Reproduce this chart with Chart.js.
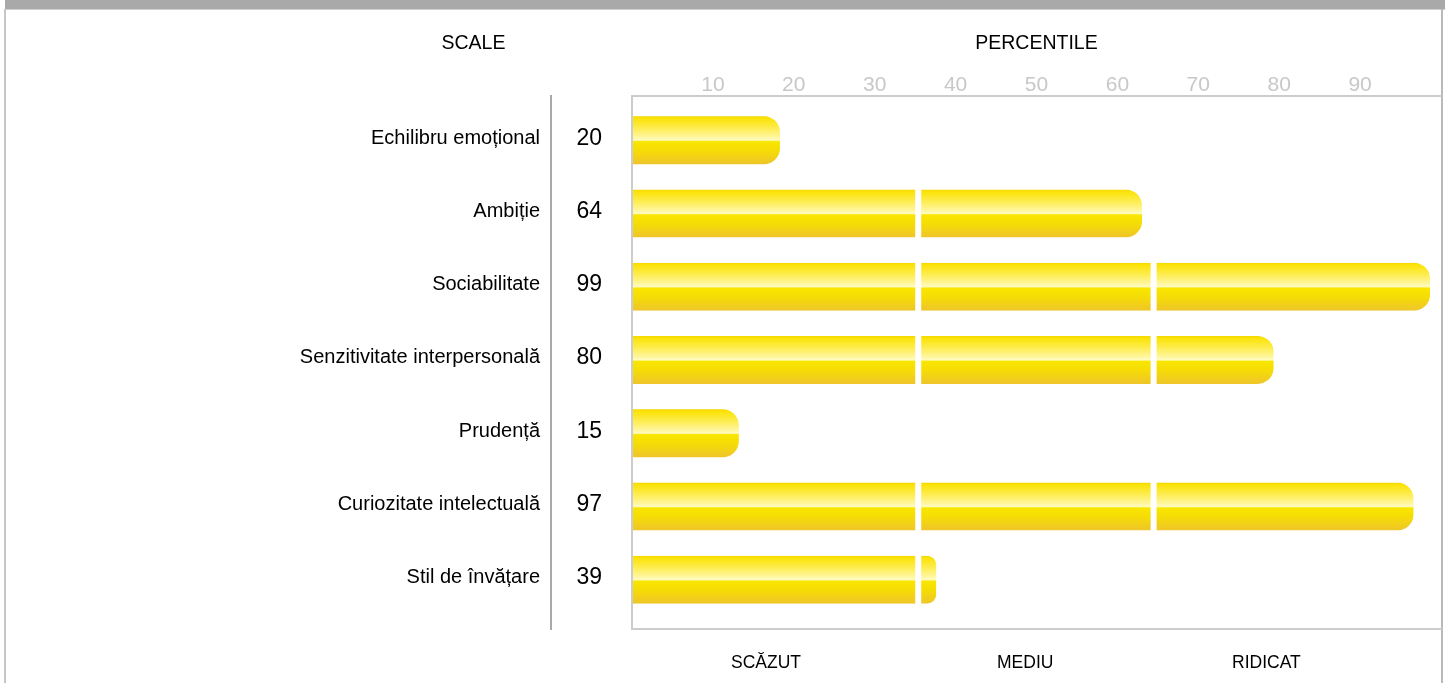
<!DOCTYPE html>
<html>
<head>
<meta charset="utf-8">
<script src="https://cdn.jsdelivr.net/npm/chart.js@4.4.0/dist/chart.umd.min.js"></script>
<style>
  html, body { margin: 0; padding: 0; background: #fff; }
  #topbar { position: absolute; left: 5px; right: 0; top: 0; height: 9px; background: #a9a9a9; border-bottom: 1px solid #cfcfcf; }
  #frame { position: absolute; left: 4px; top: 9px; width: 1435px; height: 674px; border-left: 2px solid #c6c6c6; border-right: 2px solid #b9b9b9; }
  #wrap { position: absolute; left: 0; top: 0; width: 1445px; height: 683px; }
</style>
</head>
<body>
<div id="topbar"></div>
<div id="frame"></div>
<div id="wrap"><canvas id="scaleChart" width="1445" height="683"></canvas></div>
<script>
// data
var scaleNames = ['Echilibru emoțional', 'Ambiție', 'Sociabilitate', 'Senzitivitate interpersonală',
                  'Prudență', 'Curiozitate intelectuală', 'Stil de învățare'];
var percentiles = [20, 64, 99, 80, 15, 97, 39];
var tickValues = [10, 20, 30, 40, 50, 60, 70, 80, 90];
var bands = ['SCĂZUT', 'MEDIU', 'RIDICAT'];
var bandEdges = [36.8, 65.4];        // white breaks inside the bars
var bandLabelAt = [18.3, 49.8, 79.1];

var FONT = '"Liberation Sans", Arial, sans-serif';
Chart.defaults.font.family = FONT;
Chart.defaults.color = '#000';

var BAR_H = 48;

// glossy yellow fill, built per row
function barFill(c) {
  var chart = c.chart;
  if (!chart.chartArea || !c.raw || !chart.scales.y) return '#f7df00';
  var mid = chart.scales.y.getPixelForValue(c.raw.y);
  if (!isFinite(mid)) return '#f7df00';
  var g = chart.ctx.createLinearGradient(0, mid - BAR_H / 2, 0, mid + BAR_H / 2);
  g.addColorStop(0, '#f3d700');
  g.addColorStop(0.05, '#fbe308');
  g.addColorStop(0.22, '#fdeb45');
  g.addColorStop(0.42, '#fff596');
  g.addColorStop(0.5, '#fffbc2');
  g.addColorStop(0.53, '#f9e600');
  g.addColorStop(0.72, '#f5dc06');
  g.addColorStop(1, '#eec52b');
  return g;
}

var segStart = [0].concat(bandEdges);
var segEnd = bandEdges.concat([100]);

var datasets = segStart.map(function (s, k) {
  var rows = [];
  percentiles.forEach(function (v, i) {
    if (v > s) rows.push({ y: i, x: [s, Math.min(v, segEnd[k])], last: v <= segEnd[k] });
  });
  return {
    data: rows,
    xAxisID: 'x',
    yAxisID: 'y',
    grouped: false,
    barThickness: BAR_H,
    clip: 0,
    inflateAmount: 0,
    backgroundColor: barFill,
    borderColor: '#ffffff',
    borderSkipped: false,
    borderWidth: function (c) {
      var last = c.raw ? c.raw.last : true;
      return { top: 0, bottom: 0, left: k > 0 ? 3 : 0, right: last ? 0 : 3 };
    },
    borderRadius: function (c) {
      var last = c.raw ? c.raw.last : true;
      var r = last ? 16 : 0;
      return { topLeft: 0, bottomLeft: 0, topRight: r, bottomRight: r };
    }
  };
});

var rowMin = -0.603, rowMax = 6.673;

var headingPlugin = {
  id: 'heading',
  afterDraw: function (chart) {
    var ctx = chart.ctx;
    ctx.save();
    ctx.font = '19.5px ' + FONT;
    ctx.fillStyle = '#000';
    ctx.textAlign = 'center';
    ctx.textBaseline = 'middle';
    ctx.fillText('SCALE', 473.5, 44);
    ctx.restore();
  }
};

new Chart(document.getElementById('scaleChart'), {
  type: 'bar',
  data: { datasets: datasets },
  plugins: [headingPlugin],
  options: {
    responsive: false,
    animation: false,
    indexAxis: 'y',
    layout: { padding: { left: 0, right: 4, top: 0, bottom: 0 } },
    plugins: { legend: { display: false }, tooltip: { enabled: false } },
    scales: {
      x: {
        type: 'linear', axis: 'x', position: 'bottom',
        min: 2.02, max: 100.32,
        afterBuildTicks: function (s) { s.ticks = bandLabelAt.map(function (v) { return { value: v }; }); },
        ticks: {
          callback: function (v, i) { return bands[i]; },
          font: { size: 17.5 }, color: '#000', padding: 23.5,
          autoSkip: false, maxRotation: 0
        },
        grid: { display: false, drawTicks: false },
        border: { color: '#cccccc', width: 2, z: 1 },
        afterFit: function (s) { s.height = 54; }
      },
      xt: {
        type: 'linear', axis: 'x', position: 'top',
        min: 0, max: 100,
        afterBuildTicks: function (s) { s.ticks = tickValues.map(function (v) { return { value: v }; }); },
        ticks: { font: { size: 21 }, color: '#c8c8c8', padding: -2, autoSkip: false, maxRotation: 0 },
        grid: { display: false, drawTicks: false },
        border: { color: '#cccccc', width: 2, z: 1 },
        title: {
          display: true, text: 'PERCENTILE', color: '#000',
          font: { size: 19.5 }, padding: { top: 32.3, bottom: 0 }
        },
        afterFit: function (s) { s.height = 96; }
      },
      y: {
        type: 'linear', axis: 'y', position: 'left', reverse: true, offset: false,
        min: rowMin, max: rowMax, weight: 10,
        afterBuildTicks: function (s) { s.ticks = scaleNames.map(function (n, i) { return { value: i }; }); },
        ticks: {
          callback: function (v) { return scaleNames[v]; },
          font: { size: 20 }, color: '#000', padding: 11, labelOffset: -2, autoSkip: false
        },
        grid: { display: false, drawTicks: false },
        border: { color: '#a9a9a9', width: 2 },
        afterFit: function (s) { s.width = 551; }
      },
      yv: {
        type: 'linear', axis: 'y', position: 'left', reverse: true, offset: false,
        min: rowMin, max: rowMax, weight: 0,
        afterBuildTicks: function (s) { s.ticks = percentiles.map(function (p, i) { return { value: i }; }); },
        ticks: {
          callback: function (v) { return percentiles[v]; },
          font: { size: 23 }, color: '#000', padding: 30, crossAlign: 'center', labelOffset: -2, autoSkip: false
        },
        grid: { display: false, drawTicks: false },
        border: { color: '#cccccc', width: 2, z: 1 },
        afterFit: function (s) { s.width = 81; }
      }
    }
  }
});
</script>
</body>
</html>
